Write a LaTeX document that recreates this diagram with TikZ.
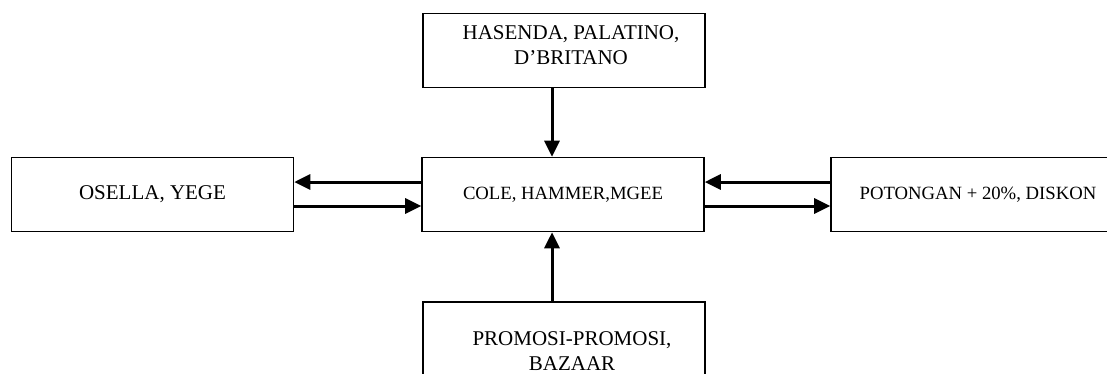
\documentclass[tikz,border=0pt]{standalone}
\usepackage{fontspec}
\setmainfont{Liberation Serif}
\usetikzlibrary{arrows.meta}

\begin{document}
\begin{tikzpicture}[x=1pt, y=-1pt,
	box/.style = {draw, line width=1.6pt, minimum width=282pt, minimum height=74pt, inner sep=0pt},
	txt/.style = {align=center, inner sep=0pt, font=\fontsize{21}{25.5}\selectfont},
	midtxt/.style = {font=\fontsize{18.7}{22}\selectfont},
	bigtxt/.style = {font=\fontsize{21}{25}\selectfont},
	arr/.style = {line width=3pt, -{Triangle[length=16pt, width=15pt]}}]

	\useasboundingbox (0, 0) rectangle (1107, 373);

	\node[box] (hasenda) at (564, 50.5) {};
	\node[txt] (hasendatxt) at (571, 45) {HASENDA, PALATINO,\\D'BRITANO};
	\node[box, midtxt] (cole) at (563, 194.5) {COLE, HAMMER,MGEE};
	\node[box, bigtxt] (osella) at (152.5, 194.5) {OSELLA, YEGE};
	\node[box, midtxt, minimum width=294pt] (potongan) at (978, 194.5) {POTONGAN + 20\%, DISKON};
	\node[box] (promosi) at (564, 339) {};
	\node[txt] (promositxt) at (572, 351) {PROMOSI-PROMOSI,\\BAZAAR};

	\draw[arr] ([xshift=-12pt]hasenda.south) -- ([xshift=-11pt]cole.north);
	\draw[arr] ([xshift=-12pt]promosi.north) -- ([xshift=-11pt]cole.south);
	\draw[arr] ([yshift=12.5pt]cole.west) -- ([yshift=12.5pt]osella.east);
	\draw[arr] ([yshift=-11.5pt]osella.east) -- ([yshift=-11.5pt]cole.west);
	\draw[arr] ([yshift=12.5pt]potongan.west) -- ([yshift=12.5pt]cole.east);
	\draw[arr] ([yshift=-11.5pt]cole.east) -- ([yshift=-11.5pt]potongan.west);

\end{tikzpicture}
\end{document}
